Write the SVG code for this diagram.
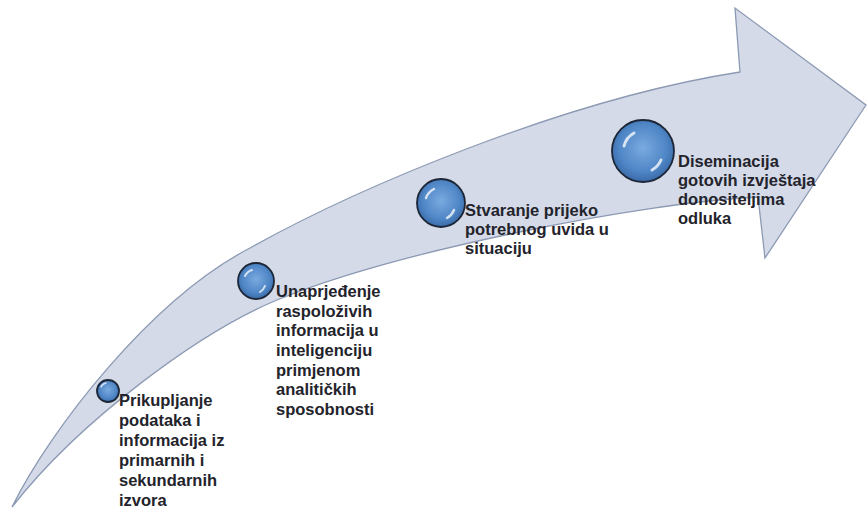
<svg xmlns="http://www.w3.org/2000/svg" width="867" height="511" viewBox="0 0 867 511">
<defs>
<radialGradient id="bub" cx="0.5" cy="0.45" r="0.55">
<stop offset="0" stop-color="#7aaae0"/>
<stop offset="0.7" stop-color="#4f86c6"/>
<stop offset="1" stop-color="#3a6aa8"/>
</radialGradient>
<style>
.arrow{fill:#d4dae8;stroke:#8c9ab4;stroke-width:1.3;stroke-linejoin:miter}
.ball{fill:url(#bub);stroke:#1c2636;stroke-width:1.8}
.shine{fill:none;stroke:#ffffff;stroke-opacity:0.75;stroke-linecap:round}
.lbl{font-family:"Liberation Sans",Arial,sans-serif;font-weight:bold;font-size:16.5px;fill:#23232b}
</style>
</defs>
<rect width="867" height="511" fill="#ffffff"/>
<g id="connectors">
<path class="arrow" d="M12,507 C50,430 150,300 250,248 C350,192 560,100 740,72 L735,8 L866,105 L765,258 L758,197 C640,203 400,250 277,300 C200,332 80,420 12,507 Z"/>
</g>
<g id="node1">
<circle class="ball" cx="108" cy="391" r="11"/>
<path class="shine" stroke-width="1.5" d="M101,387 A7,7 0 0 1 106,383"/>
<text class="lbl" x="119"><tspan x="119" y="406">Prikupljanje</tspan><tspan x="119" y="426">podataka i</tspan><tspan x="119" y="446">informacija iz</tspan><tspan x="119" y="466">primarnih i</tspan><tspan x="119" y="486">sekundarnih</tspan><tspan x="119" y="506">izvora</tspan></text>
</g>
<g id="node2">
<circle class="ball" cx="256" cy="281" r="18"/>
<path class="shine" stroke-width="2" d="M245,276 A12,12 0 0 1 252,270"/>
<path class="shine" stroke-width="2" d="M265,286 A12,12 0 0 1 260,292"/>
<text class="lbl"><tspan x="276" y="297">Unaprjeđenje</tspan><tspan x="276" y="317">raspoloživih</tspan><tspan x="276" y="336">informacija u</tspan><tspan x="276" y="356">inteligenciju</tspan><tspan x="276" y="376">primjenom</tspan><tspan x="276" y="395">analitičkih</tspan><tspan x="276" y="415">sposobnosti</tspan></text>
</g>
<g id="node3">
<circle class="ball" cx="441" cy="203" r="24"/>
<path class="shine" stroke-width="2.5" d="M426,198 A16,16 0 0 1 434,189"/>
<path class="shine" stroke-width="2.5" d="M454,210 A16,16 0 0 1 447,218"/>
<text class="lbl"><tspan x="465" y="216">Stvaranje prijeko</tspan><tspan x="465" y="235">potrebnog uvida u</tspan><tspan x="465" y="254">situaciju</tspan></text>
</g>
<g id="node4">
<circle class="ball" cx="643" cy="151" r="31"/>
<path class="shine" stroke-width="3" d="M624,146 A21,21 0 0 1 634,133"/>
<path class="shine" stroke-width="3" d="M661,160 A21,21 0 0 1 652,170"/>
<text class="lbl"><tspan x="678" y="167">Diseminacija</tspan><tspan x="678" y="186">gotovih izvještaja</tspan><tspan x="678" y="205">donositeljima</tspan><tspan x="678" y="224">odluka</tspan></text>
</g>
</svg>
